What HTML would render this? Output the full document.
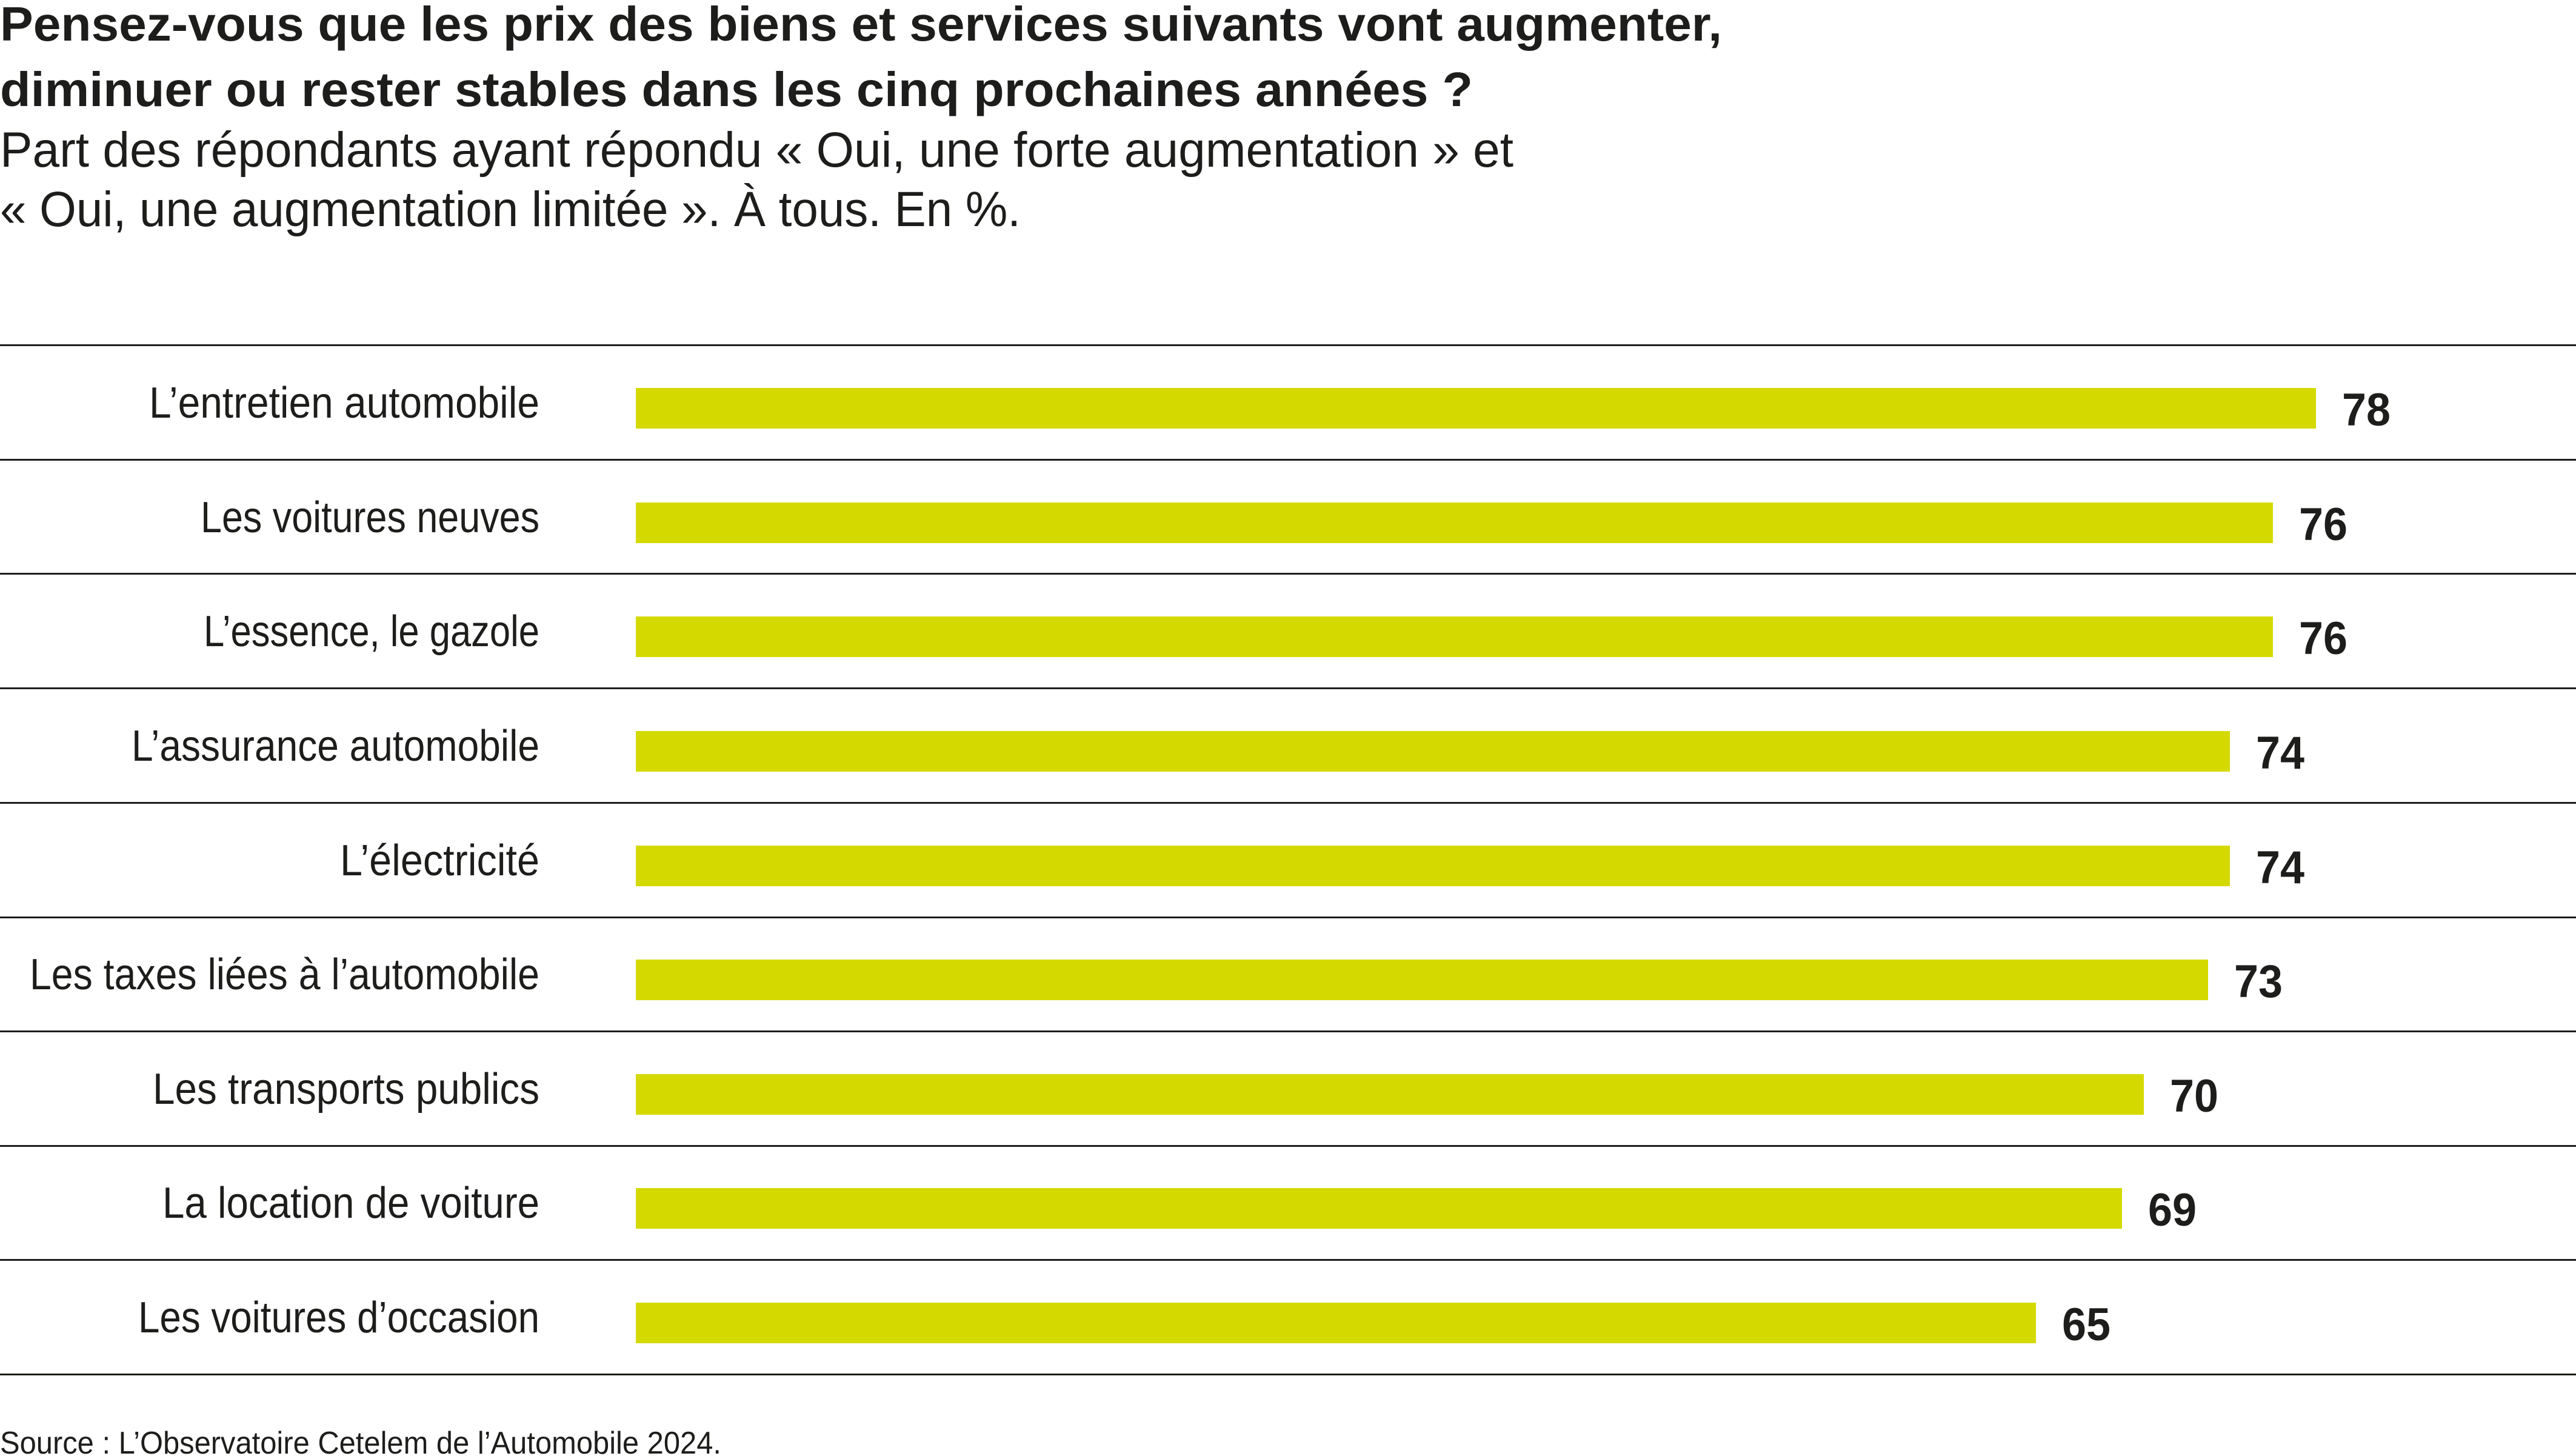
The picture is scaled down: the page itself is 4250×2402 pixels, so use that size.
<!DOCTYPE html>
<html><head><meta charset="utf-8"><style>
html,body{margin:0;padding:0;background:#fff;}
svg{display:block;}
text{fill:#1d1d1b;}
</style></head><body>
<svg width="4250" height="2402" viewBox="0 0 4250 2402" xmlns="http://www.w3.org/2000/svg">
<g font-family="Liberation Sans, sans-serif">
<text x="0" y="67" font-size="80" font-weight="bold" textLength="2841" lengthAdjust="spacingAndGlyphs">Pensez-vous que les prix des biens et services suivants vont augmenter,</text>
<text x="0" y="175" font-size="80" font-weight="bold" textLength="2430" lengthAdjust="spacingAndGlyphs">diminuer ou rester stables dans les cinq prochaines années ?</text>
<text x="0" y="275" font-size="82" textLength="2497" lengthAdjust="spacingAndGlyphs">Part des répondants ayant répondu « Oui, une forte augmentation » et</text>
<text x="0" y="373" font-size="82" textLength="1684" lengthAdjust="spacingAndGlyphs">« Oui, une augmentation limitée ». À tous. En %.</text>
<text x="0" y="2398" font-size="52" textLength="1190" lengthAdjust="spacingAndGlyphs">Source : L’Observatoire Cetelem de l’Automobile 2024.</text>
</g>
<g fill="#1d1d1b">
<rect x="0" y="568" width="4250" height="3"/>
<rect x="0" y="757" width="4250" height="3"/>
<rect x="0" y="945" width="4250" height="3"/>
<rect x="0" y="1134" width="4250" height="3"/>
<rect x="0" y="1323" width="4250" height="3"/>
<rect x="0" y="1512" width="4250" height="3"/>
<rect x="0" y="1700" width="4250" height="3"/>
<rect x="0" y="1889" width="4250" height="3"/>
<rect x="0" y="2077" width="4250" height="3"/>
<rect x="0" y="2266" width="4250" height="3"/>
</g>
<g fill="#d4da00">
<rect x="1049" y="640" width="2772" height="67"/>
<rect x="1049" y="829" width="2701" height="67"/>
<rect x="1049" y="1017" width="2701" height="67"/>
<rect x="1049" y="1206" width="2630" height="67"/>
<rect x="1049" y="1395" width="2630" height="67"/>
<rect x="1049" y="1583" width="2594" height="67"/>
<rect x="1049" y="1772" width="2488" height="67"/>
<rect x="1049" y="1960" width="2452" height="67"/>
<rect x="1049" y="2149" width="2310" height="67"/>
</g>
<g font-family="Liberation Sans, sans-serif" font-size="72" text-anchor="end">
<text x="890" y="689" textLength="644" lengthAdjust="spacingAndGlyphs">L’entretien automobile</text>
<text x="890" y="878" textLength="559" lengthAdjust="spacingAndGlyphs">Les voitures neuves</text>
<text x="890" y="1066" textLength="554" lengthAdjust="spacingAndGlyphs">L’essence, le gazole</text>
<text x="890" y="1255" textLength="673" lengthAdjust="spacingAndGlyphs">L’assurance automobile</text>
<text x="890" y="1444" textLength="329" lengthAdjust="spacingAndGlyphs">L’électricité</text>
<text x="890" y="1632" textLength="841" lengthAdjust="spacingAndGlyphs">Les taxes liées à l’automobile</text>
<text x="890" y="1821" textLength="638" lengthAdjust="spacingAndGlyphs">Les transports publics</text>
<text x="890" y="2009" textLength="622" lengthAdjust="spacingAndGlyphs">La location de voiture</text>
<text x="890" y="2198" textLength="662" lengthAdjust="spacingAndGlyphs">Les voitures d’occasion</text>
</g>
<g font-family="Liberation Sans, sans-serif" font-size="76" font-weight="bold">
<text x="3864" y="702" textLength="80" lengthAdjust="spacingAndGlyphs">78</text>
<text x="3793" y="891" textLength="80" lengthAdjust="spacingAndGlyphs">76</text>
<text x="3793" y="1079" textLength="80" lengthAdjust="spacingAndGlyphs">76</text>
<text x="3722" y="1268" textLength="80" lengthAdjust="spacingAndGlyphs">74</text>
<text x="3722" y="1457" textLength="80" lengthAdjust="spacingAndGlyphs">74</text>
<text x="3686" y="1645" textLength="80" lengthAdjust="spacingAndGlyphs">73</text>
<text x="3580" y="1834" textLength="80" lengthAdjust="spacingAndGlyphs">70</text>
<text x="3544" y="2022" textLength="80" lengthAdjust="spacingAndGlyphs">69</text>
<text x="3402" y="2211" textLength="80" lengthAdjust="spacingAndGlyphs">65</text>
</g>
</svg>
</body></html>
